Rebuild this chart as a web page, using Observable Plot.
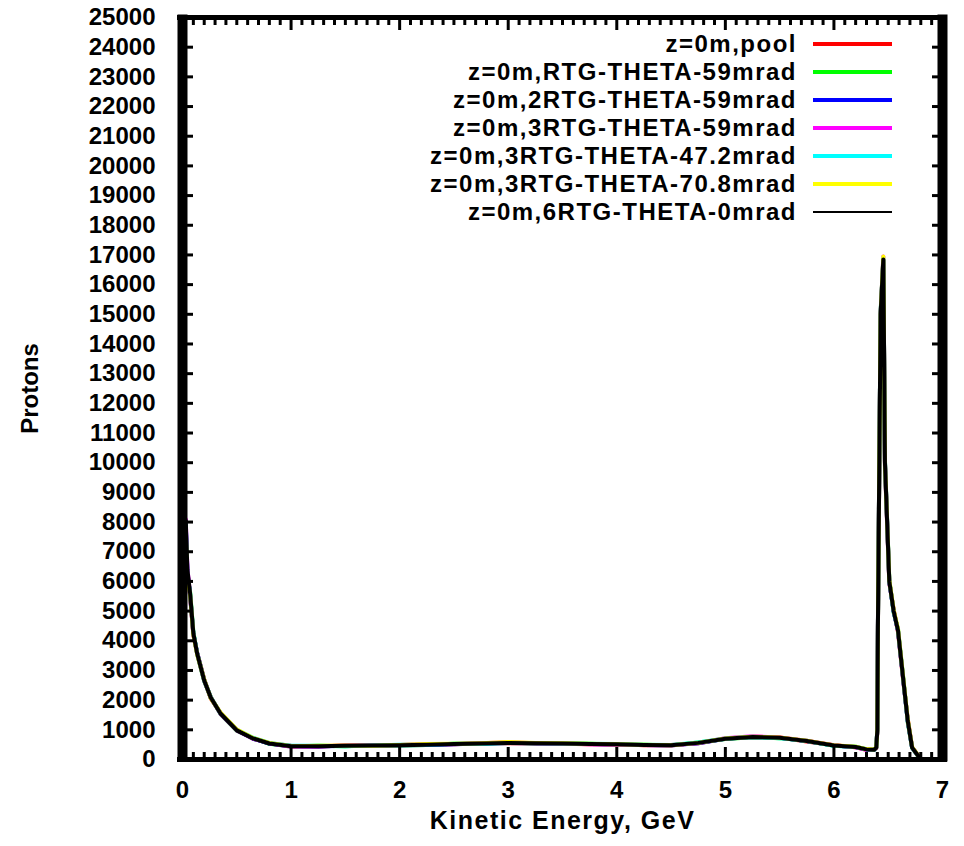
<!DOCTYPE html>
<html>
<head>
<meta charset="utf-8">
<script src="https://cdn.jsdelivr.net/npm/d3@7"></script>
<script src="https://cdn.jsdelivr.net/npm/@observablehq/plot@0.6"></script>
<style>
  html, body { margin: 0; padding: 0; background: #fff; }
  #wrap { position: relative; width: 964px; height: 846px; font-family: "Liberation Sans", Arial, sans-serif; }
  #legend .lab { position: absolute; right: 167px; height: 28px; line-height: 28px; font-size: 24px; font-weight: bold; letter-spacing: 1.5px; white-space: nowrap; color: #000; }
  #legend .sw { position: absolute; left: 813px; width: 79px; }
</style>
</head>
<body>
<div id="wrap"><div id="legend"></div></div>
<script>
// ---- data ----
const seriesNames = [
  "z=0m,pool",
  "z=0m,RTG-THETA-59mrad",
  "z=0m,2RTG-THETA-59mrad",
  "z=0m,3RTG-THETA-59mrad",
  "z=0m,3RTG-THETA-47.2mrad",
  "z=0m,3RTG-THETA-70.8mrad",
  "z=0m,6RTG-THETA-0mrad"
];
const seriesColors = ["#ff0000", "#00ff00", "#0000ff", "#ff00ff", "#00ffff", "#ffff00", "#000000"];

const energy = [0.01,0.03,0.045,0.07,0.1,0.135,0.2,0.26,0.35,0.5,0.65,0.8,1.0,1.25,1.5,1.75,2.0,2.25,2.5,2.75,3.0,3.25,3.5,3.75,4.0,4.25,4.5,4.75,5.0,5.25,5.5,5.75,6.0,6.2,6.3,6.37,6.39,6.40,6.405,6.43,6.455,6.47,6.51,6.55,6.59,6.64,6.68,6.72,6.77,6.8];

const pool      = [7900,7800,6300,5550,4200,3600,2700,2060,1570,1000,700,550,460,440,470,460,490,510,510,550,550,560,530,510,520,480,490,550,710,770,740,610,480,410,330,340,380,950,4350,14900,16800,9900,5950,5050,4300,2600,1350,420,160,35];
const rtg59     = [7700,7600,6200,5650,4300,3550,2640,2110,1530,970,720,530,440,460,450,480,470,490,530,530,570,540,550,530,500,500,470,570,690,750,720,630,460,430,350,320,420,1050,4450,15100,16850,10100,6050,4950,4400,2700,1250,390,140,25];
const rtg2_59   = [7800,7900,6350,5500,4230,3600,2680,2080,1560,990,700,540,450,440,460,470,480,490,510,540,560,550,530,520,510,490,480,550,700,760,730,620,470,420,340,330,410,1000,4400,15050,16850,10050,6000,5000,4350,2650,1300,400,150,30];
const rtg3_59   = [8150,8100,6450,5550,4220,3560,2650,2100,1540,980,710,550,430,450,470,480,490,510,520,550,580,550,540,510,500,490,470,560,720,780,740,630,480,410,330,330,400,1020,4500,15000,16950,10000,6000,5000,4350,2650,1300,400,150,30];
const rtg3_47   = [8050,7950,6250,5600,4240,3580,2670,2090,1560,1000,730,560,460,460,450,470,500,500,530,530,560,560,540,530,520,500,490,570,710,770,720,620,460,420,340,330,400,1000,4400,14950,16900,9950,6000,5000,4350,2650,1300,400,150,30];
const rtg3_70   = [7600,7700,6100,5550,4200,3550,2690,2070,1580,1010,720,560,450,460,470,460,490,520,530,550,590,560,550,530,510,500,480,560,710,770,740,630,480,430,350,340,410,1000,4400,15000,16950,10000,6050,5050,4400,2700,1350,420,160,35];
const rtg6_0    = [8100,8050,6400,5600,4250,3570,2660,2090,1550,980,710,540,450,450,460,470,480,500,520,540,560,550,540,520,510,490,480,560,700,760,730,620,470,420,340,330,400,1000,4400,15000,16850,10000,6000,5000,4350,2650,1300,400,150,30];

const seriesValues = [pool, rtg59, rtg2_59, rtg3_59, rtg3_47, rtg3_70, rtg6_0];

const xTickValues = [0, 1, 2, 3, 4, 5, 6, 7];
const xMinorValues = d3.range(0, 70).map(i => i / 10).filter(v => !Number.isInteger(v));
const yTickValues = d3.range(0, 25001, 1000);

const rows = [];
seriesNames.forEach((name, s) => {
  energy.forEach((e, i) => rows.push({series: name, E: e, P: seriesValues[s][i]}));
});

const plot = Plot.plot({
  width: 964, height: 846,
  marginLeft: 182, marginRight: 22, marginTop: 17, marginBottom: 87,
  style: {fontFamily: "'Liberation Sans', Arial, sans-serif", fontSize: "24px", fontWeight: "bold", background: "#fff", color: "#000"},
  x: {domain: [0, 7]},
  y: {domain: [0, 25000]},
  color: {domain: seriesNames, range: seriesColors},
  marks: [
    Plot.line(rows, {x: "E", y: "P", z: "series", stroke: "series", strokeWidth: 4, strokeLinejoin: "round"}),
    // tick labels and axis titles
    Plot.axisY({anchor: "left", ticks: yTickValues, tickSize: 0, tickPadding: 27, tickFormat: d3.format("d"),
      label: "Protons", labelAnchor: "center", labelOffset: 162, labelArrow: "none", fontSize: 24}),
    Plot.axisX({anchor: "bottom", ticks: xTickValues, tickSize: 0, tickPadding: 21, tickFormat: d3.format("d"),
      label: "Kinetic Energy, GeV", labelAnchor: "center", labelOffset: 69, labelArrow: "none", fontSize: 24}),
    // inward ticks (gnuplot style, mirrored)
    Plot.axisY({anchor: "left", ticks: yTickValues, tickSize: 11, dx: 11, tickFormat: () => "", label: null, strokeWidth: 3}),
    Plot.axisY({anchor: "right", ticks: yTickValues, tickSize: 11, dx: -11, tickFormat: () => "", label: null, strokeWidth: 3}),
    Plot.axisX({anchor: "bottom", ticks: xTickValues, tickSize: 12, dy: -12, tickFormat: () => "", label: null, strokeWidth: 3}),
    Plot.axisX({anchor: "bottom", ticks: xMinorValues, tickSize: 7, dy: -7, tickFormat: () => "", label: null, strokeWidth: 3}),
    Plot.axisX({anchor: "top", ticks: xTickValues, tickSize: 12, dy: 12, tickFormat: () => "", label: null, strokeWidth: 3}),
    Plot.axisX({anchor: "top", ticks: xMinorValues, tickSize: 7, dy: 7, tickFormat: () => "", label: null, strokeWidth: 3}),
    // thick border
    Plot.ruleX([0, 7], {stroke: "#000", strokeWidth: 10, insetTop: -2.5, insetBottom: -2.5}),
    Plot.ruleY([0, 25000], {stroke: "#000", strokeWidth: 5, insetLeft: -5, insetRight: -5})
  ]
});

const wrap = document.getElementById("wrap");
wrap.insertBefore(plot, wrap.firstChild);

plot.querySelectorAll("text").forEach(t => {
  if (t.textContent.trim() === "Kinetic Energy, GeV") {
    t.setAttribute("font-size", "25");
    t.style.letterSpacing = "1.5px";
  }
});

// ---- legend (HTML overlay inside the plot area) ----
const legend = document.getElementById("legend");
const rowTop = 44, rowStep = 28;
seriesNames.forEach((name, i) => {
  const cy = rowTop + i * rowStep;
  const lab = document.createElement("div");
  lab.className = "lab";
  lab.style.top = (cy - 14) + "px";
  lab.textContent = name;
  legend.appendChild(lab);
  const sw = document.createElement("div");
  sw.className = "sw";
  const h = seriesColors[i] === "#000000" ? 2 : 4;
  sw.style.height = h + "px";
  sw.style.top = (cy - h / 2) + "px";
  sw.style.background = seriesColors[i];
  legend.appendChild(sw);
});
</script>
</body>
</html>
